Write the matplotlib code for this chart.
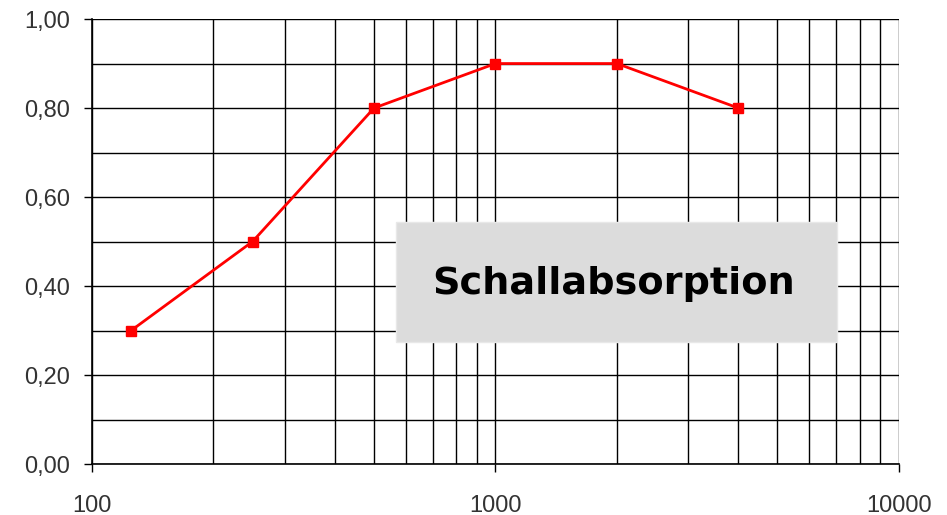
import matplotlib
matplotlib.use("Agg")
import matplotlib.pyplot as plt
from matplotlib.patches import Rectangle
from matplotlib.ticker import FixedLocator, FuncFormatter, LogLocator, NullFormatter

# Frequenz (Hz) und Schallabsorptionsgrad
freq = [125, 250, 500, 1000, 2000, 4000]
alpha = [0.30, 0.50, 0.80, 0.90, 0.90, 0.80]
x_ticks = [100, 1000, 10000]
y_ticks = [0.0, 0.2, 0.4, 0.6, 0.8, 1.0]
title = "Schallabsorption"

plt.rcParams['font.family'] = ['Liberation Sans', 'DejaVu Sans']

fig = plt.figure(figsize=(9.47, 5.15), dpi=100)
ax = fig.add_axes([0.0972, 0.099, 0.852, 0.864])

ax.set_xscale('log')
ax.set_xlim(100, 10000)
ax.set_ylim(0, 1.0)

# Gitter
ax.xaxis.set_major_locator(FixedLocator(x_ticks))
ax.xaxis.set_minor_locator(LogLocator(base=10, subs=range(2, 10)))
ax.xaxis.set_minor_formatter(NullFormatter())
ax.xaxis.set_major_formatter(FuncFormatter(lambda v, p: f"{int(v)}"))
ax.yaxis.set_major_locator(FixedLocator(y_ticks))
ax.yaxis.set_minor_locator(FixedLocator([0.1, 0.3, 0.5, 0.7, 0.9]))
ax.yaxis.set_major_formatter(FuncFormatter(lambda v, p: f"{v:.2f}".replace('.', ',')))

ax.grid(True, which='both', color='black', linewidth=1.0)
ax.set_axisbelow(True)

ax.tick_params(axis='both', which='major', direction='out', length=6, width=1,
               labelsize=17, labelcolor='#333333', color='black')
ax.tick_params(axis='x', which='major', pad=16)
ax.tick_params(axis='y', which='major', pad=10)
ax.tick_params(which='minor', length=0)

for s in ['top', 'right']:
    ax.spines[s].set_visible(False)
for s in ['left', 'bottom']:
    ax.spines[s].set_linewidth(1.2)

ax.plot(freq, alpha, color='#ff0000', linewidth=2, marker='s', markersize=7,
        zorder=5, clip_on=False)

# Textfeld
ax.add_patch(Rectangle((0.3767, 0.274), 0.5465, 0.2697, transform=ax.transAxes,
                       facecolor='#dcdcdc', edgecolor='#e8e8e8', linewidth=1,
                       zorder=6))
ax.text(0.646, 0.405, title, transform=ax.transAxes, ha='center', va='center',
        fontsize=27.5, fontweight='bold', family=['DejaVu Sans'], color='black',
        zorder=7)

fig.savefig('out.png', dpi=100)
